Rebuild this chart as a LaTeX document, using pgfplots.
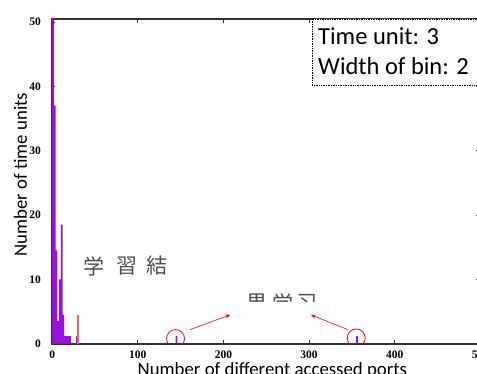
\documentclass[border=0pt]{standalone}
\usepackage{pgfplots}
\pgfplotsset{compat=1.18}
\usetikzlibrary{arrows.meta}
\usepackage{fontspec}
\setmainfont{Liberation Serif}
\newfontfamily\calfont{Carlito}
\newfontfamily\jpfont{Noto Sans CJK JP}
\definecolor{dpurp}{HTML}{5B0A91}
\definecolor{bpurp}{HTML}{9A10E0}
\definecolor{lred}{HTML}{FF5A5A}
\definecolor{axgray}{HTML}{333333}
\begin{document}
\begin{tikzpicture}[x=1pt,y=1pt]
\begin{axis}[
  at={(60,47)}, anchor=south west,
  scale only axis, width=429pt, height=325pt,
  xmin=-1, xmax=500, ymin=0, ymax=50.5,
  axis line style={axgray, line width=1.6pt},
  xtick={0,100,...,500}, ytick={0,10,...,50},
  tick align=inside, major tick length=4pt,
  tick style={axgray, line width=0.8pt},
  /pgf/number format/assume math mode=true,
  ticklabel style={font=\bfseries\fontsize{11.5}{12}\selectfont},
  xticklabel style={yshift=-4pt},
  yticklabel style={xshift=-7pt},
  xlabel={Number of different accessed ports},
  ylabel={Number of time units},
  label style={font=\calfont\fontsize{18.8}{20}\selectfont},
  xlabel style={at={(axis description cs:0.5,0)}, anchor=base, xshift=6.5pt, yshift=-32pt},
  ylabel style={at={(axis description cs:-0.057,0.52)}, anchor=base},
]
\addplot[ybar, bar width=1.6, bar shift=0pt, fill=dpurp, draw=none] coordinates {(-0.3,55)};
\addplot[ybar, bar width=2, bar shift=0pt, fill=bpurp, draw=none] coordinates {
 (1,55) (3,37) (5,14.5) (7,3.5) (9,10) (11,18.5) (13,4.5) (15,1.2) (17,1.2) (19,1.2) (21,1.2) (29,1.2) (145,1.2) (356,1.2)};
\addplot[ybar, bar width=1.4, bar shift=0pt, fill=lred, draw=none] coordinates {(30,4.5)};
\draw[red, line width=0.8pt] (axis cs:144,0.8) circle [radius=9pt];
\draw[red, line width=0.8pt] (axis cs:355,0.9) circle [radius=9pt];
\draw[red, line width=0.6pt, -{Stealth[length=5pt,width=4pt]}] (axis cs:161,2.2) -- (axis cs:208,4.5);
\draw[red, line width=0.6pt, -{Stealth[length=5pt,width=4pt]}] (axis cs:345,2.2) -- (axis cs:302,4.5);
\end{axis}
\draw[densely dotted, line width=0.7pt, fill=white] (312,355) rectangle (490,289);
\node[anchor=base west, inner sep=0pt, font=\calfont\fontsize{24.5}{26}\selectfont] at (318,329) {Time unit: 3};
\node[anchor=base west, inner sep=0pt, font=\calfont\fontsize{24.5}{26}\selectfont] at (318,299) {Width of bin: 2};
\begin{scope}[every node/.style={font=\jpfont\fontsize{21}{22}\selectfont, text=black!70, inner sep=0pt}]
\node at (94,108) {学};
\node at (126.5,108) {習};
\node at (156.5,108) {結};
\begin{scope}
\clip (240,72) rectangle (330,84);
\node at (257,71) {果};
\node at (283,71) {学};
\node at (307,71) {习};
\end{scope}
\end{scope}
\pgfresetboundingbox
\useasboundingbox (0,0) rectangle (477,374);
\end{tikzpicture}
\end{document}
